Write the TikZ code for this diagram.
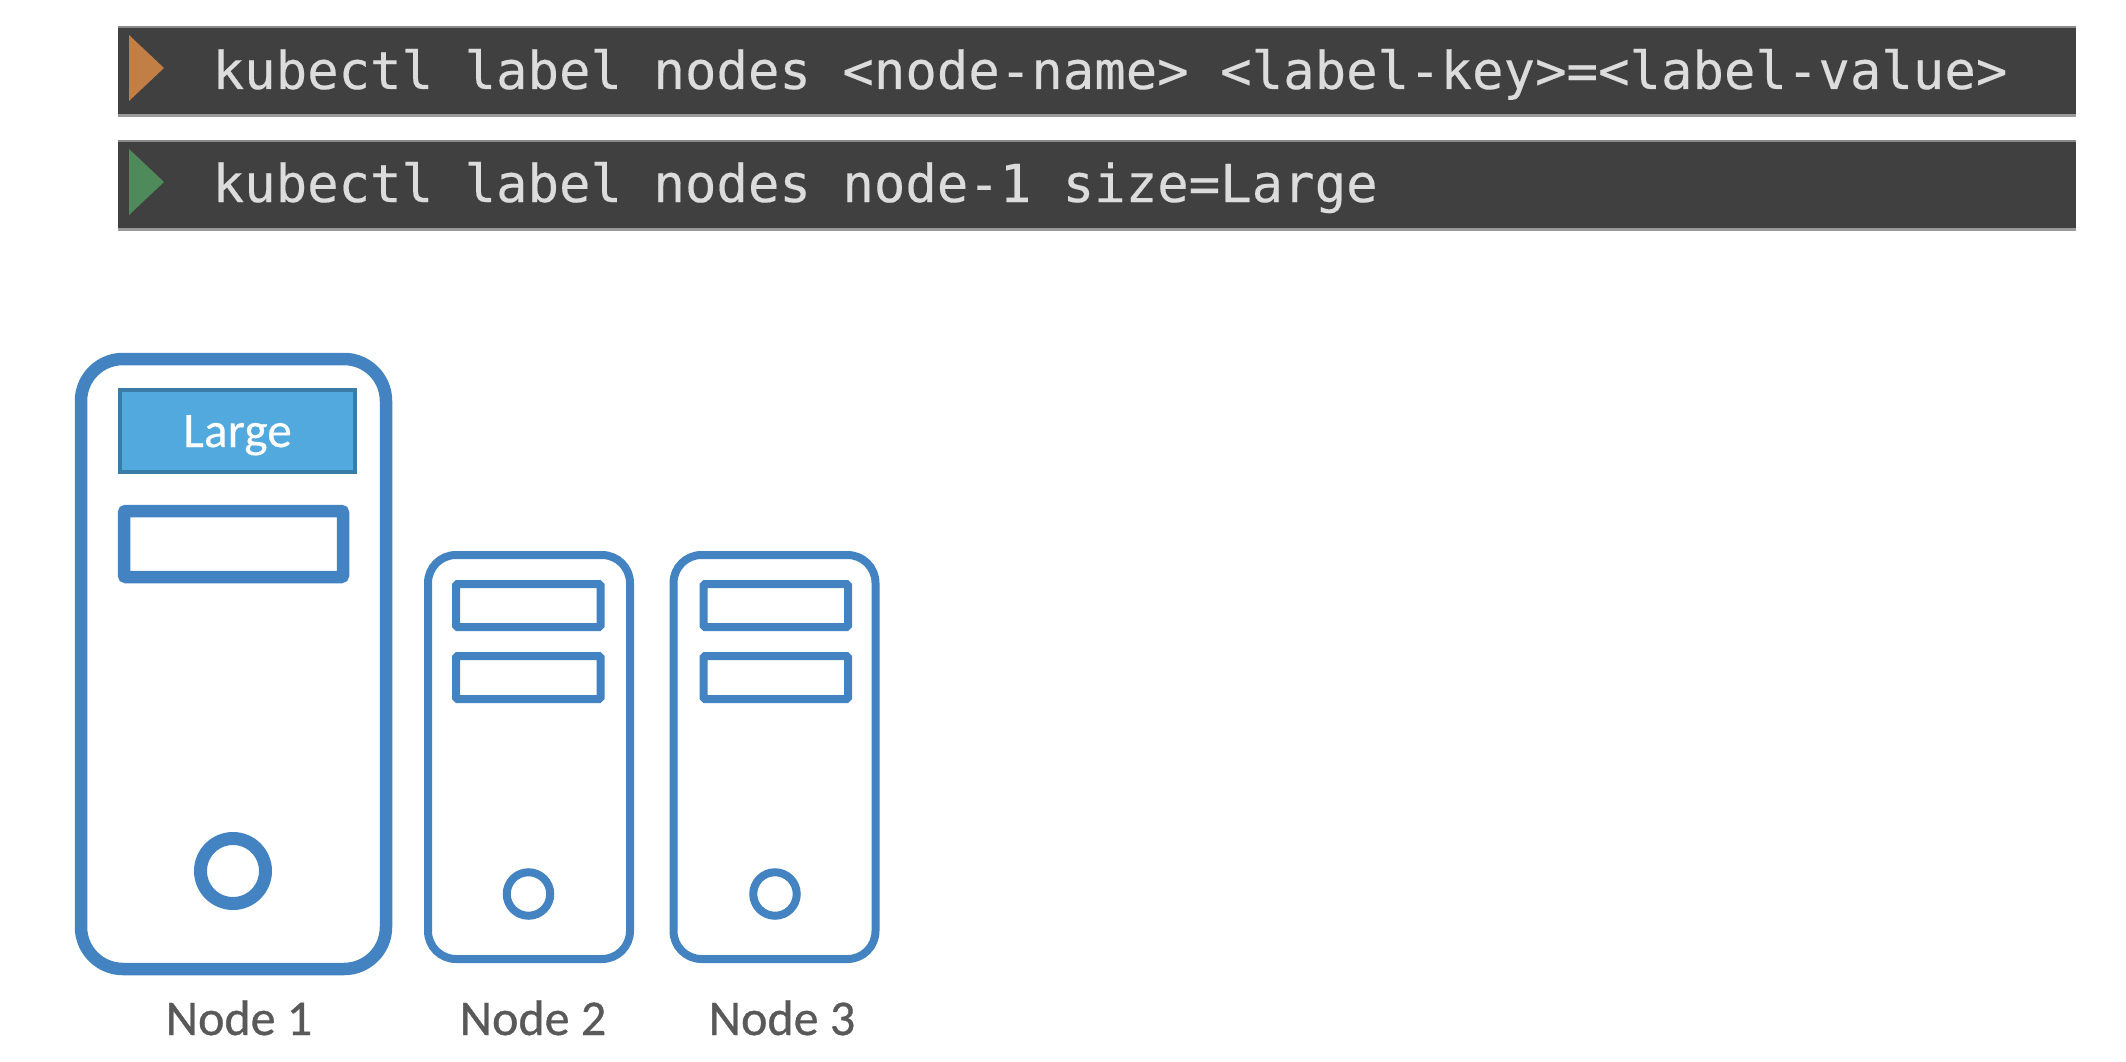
\documentclass[tikz,border=0pt]{standalone}
\usepackage{fontspec}
\setmainfont{Carlito}
\newfontfamily\codefont{DejaVu Sans Mono}[FakeBold=0.25]
\newfontfamily\boxfont{Carlito}[FakeBold=0.3]
\newfontfamily\namefont{Carlito}[FakeBold=0.7]
\definecolor{barfill}{HTML}{404040}
\definecolor{baredgetop}{HTML}{8A8A8A}
\definecolor{baredge}{HTML}{9A9A9A}
\definecolor{codetext}{HTML}{DCDCDC}
\definecolor{srvblue}{HTML}{4383C2}
\definecolor{lblfill}{HTML}{52A9DE}
\definecolor{lbledge}{HTML}{3A7CA5}
\definecolor{nodetext}{HTML}{595959}
\definecolor{triorange}{HTML}{C27F45}
\definecolor{trigreen}{HTML}{4F8A5A}
\tikzset{
  cmdbar/.style={fill=barfill,draw=none,minimum width=1958pt,minimum height=88.5pt,outer sep=0pt,inner sep=0pt,anchor=north west},
  baretop/.style={draw=baredgetop,line width=1.5pt},
  barbottom/.style={draw=baredge,line width=2.5pt},
  cmdtext/.style={text=codetext,anchor=base west,inner sep=0pt,font=\codefont\fontsize{52.3}{60}\selectfont},
  bigsrv/.style={draw=srvblue,line width=12.5pt,rounded corners=42pt,minimum width=305pt,minimum height=610pt,outer sep=0pt,inner sep=0pt,anchor=north west},
  smallsrv/.style={draw=srvblue,line width=8pt,rounded corners=28pt,minimum width=202pt,minimum height=404pt,outer sep=0pt,inner sep=0pt,anchor=north west},
  bigslot/.style={draw=srvblue,line width=12.5pt,rounded corners=2pt,minimum width=219pt,minimum height=66pt,outer sep=0pt,inner sep=0pt,anchor=north west},
  smallslot/.style={draw=srvblue,line width=8pt,rounded corners=1.5pt,minimum width=144.5pt,minimum height=43pt,outer sep=0pt,inner sep=0pt,anchor=north west},
  bigled/.style={circle,draw=srvblue,line width=13pt,minimum size=65pt,outer sep=0pt,inner sep=0pt},
  smallled/.style={circle,draw=srvblue,line width=8pt,minimum size=43.5pt,outer sep=0pt,inner sep=0pt},
  lblbox/.style={fill=lblfill,draw=lbledge,line width=4pt,minimum width=235pt,minimum height=82pt,outer sep=0pt,inner sep=0pt,anchor=north west},
  lbltext/.style={text=white,inner sep=0pt,anchor=base,font=\boxfont\fontsize{49.5}{58}\selectfont},
  srvname/.style={text=nodetext,inner sep=0pt,anchor=base,font=\namefont\fontsize{50}{60}\selectfont},
}
\begin{document}
\begin{tikzpicture}[x=1pt,y=-1pt]
\useasboundingbox (0,0) rectangle (2126,1062);
% command bars
\node[cmdbar] (bar1) at (118,27) {};
\node[cmdbar] (bar2) at (118,141) {};
\draw[baretop] (bar1.north west) -- (bar1.north east);
\draw[barbottom] (bar1.south west) -- (bar1.south east);
\draw[baretop] (bar2.north west) -- (bar2.north east);
\draw[barbottom] (bar2.south west) -- (bar2.south east);
\fill[triorange] (129,35) -- (164,68) -- (129,101) -- cycle;
\fill[trigreen] (129,149) -- (164,182) -- (129,215) -- cycle;
\node[cmdtext] (cmd1) at (212.5,89) {kubectl label nodes <node-name> <label-key>=<label-value>};
\node[cmdtext] (cmd2) at (212.5,202) {kubectl label nodes node-1 size=Large};
% node 1
\node[bigsrv] (n1) at (81,359) {};
\node[lblbox] (lbl) at (120,390) {};
\node[lbltext] (lbltxt) at (237.5,447) {Large};
\node[bigslot] (n1s) at (124,511) {};
\node[bigled] (n1l) at (233,871) {};
% node 2
\node[smallsrv] (n2) at (428,555) {};
\node[smallslot] (n2a) at (456,584) {};
\node[smallslot] (n2b) at (456,656) {};
\node[smallled] (n2l) at (528.5,894) {};
% node 3
\node[smallsrv] (n3) at (673.5,555) {};
\node[smallslot] (n3a) at (703.5,584) {};
\node[smallslot] (n3b) at (703.5,656) {};
\node[smallled] (n3l) at (775,894) {};
% names
\node[srvname] (t1) at (239,1035) {Node 1};
\node[srvname] (t2) at (533,1035) {Node 2};
\node[srvname] (t3) at (782,1035) {Node 3};
\end{tikzpicture}
\end{document}
